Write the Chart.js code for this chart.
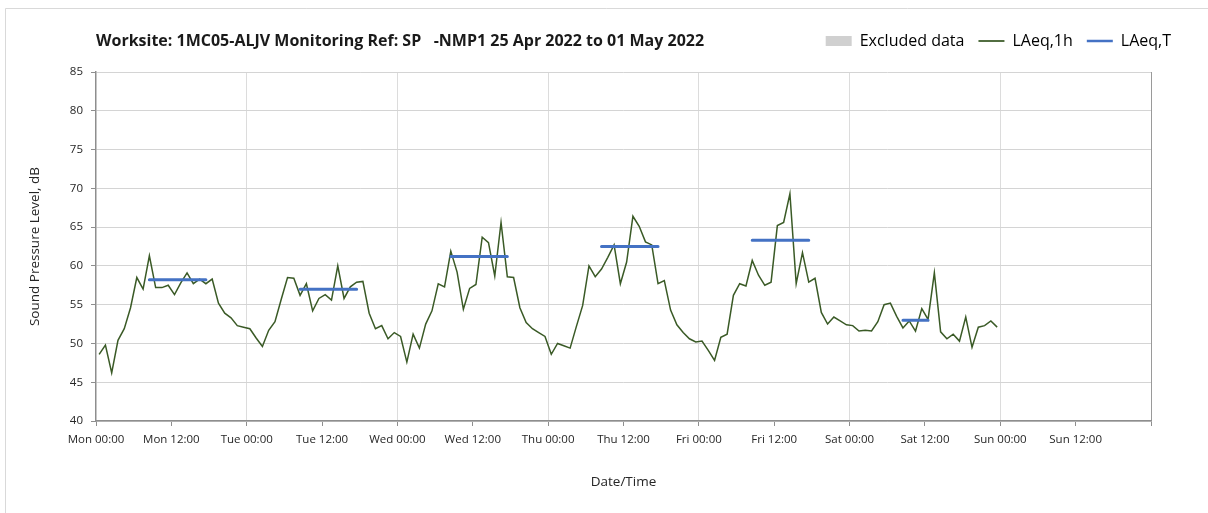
<!DOCTYPE html>
<html>
<head>
<meta charset="utf-8">
<script src="https://cdn.jsdelivr.net/npm/chart.js@4.4.1/dist/chart.umd.min.js"></script>
<style>
  html, body { margin: 0; padding: 0; background: #fff; }
</style>
</head>
<body>
<canvas id="noiseChart" width="1208" height="513"></canvas>
<script>
const dayNames = ["Mon", "Tue", "Wed", "Thu", "Fri", "Sat", "Sun"];

// hourly LAeq,1h, Mon 00:00 -> Sat 23:00 (plotted at the half hour)
const laeq1h = [
  48.6, 49.8, 46.2, 50.4, 51.9, 54.6, 58.5, 57.0, 61.3, 57.2, 57.2, 57.5,
  56.3, 57.8, 59.1, 57.7, 58.3, 57.7, 58.3, 55.2, 53.9, 53.3, 52.3, 52.1,
  51.9, 50.7, 49.6, 51.7, 52.8, 55.7, 58.5, 58.4, 56.2, 57.7, 54.2, 55.8,
  56.3, 55.6, 60.0, 55.8, 57.3, 57.9, 58.0, 53.9, 51.9, 52.3, 50.6, 51.4,
  50.9, 47.6, 51.2, 49.4, 52.5, 54.2, 57.7, 57.3, 61.9, 59.2, 54.4, 57.1,
  57.6, 63.7, 63.0, 58.7, 65.6, 58.6, 58.5, 54.6, 52.7, 51.9, 51.4, 50.9,
  48.6, 50.0, 49.7, 49.4, 52.2, 54.9, 60.0, 58.6, 59.6, 61.1, 62.7, 57.7,
  60.5, 66.4, 65.1, 63.1, 62.7, 57.7, 58.1, 54.3, 52.4, 51.4, 50.6, 50.2,
  50.3, 49.1, 47.8, 50.8, 51.2, 56.2, 57.7, 57.4, 60.7, 58.8, 57.5, 57.9,
  65.2, 65.6, 69.3, 57.7, 61.7, 57.9, 58.4, 54.0, 52.5, 53.4, 52.9, 52.4,
  52.3, 51.6, 51.7, 51.6, 52.8, 55.0, 55.2, 53.5, 52.0, 52.9, 51.6, 54.5,
  53.1, 59.1, 51.5, 50.6, 51.2, 50.3, 53.4, 49.5, 52.1, 52.3, 52.9, 52.1
];

// LAeq,T periods (hours from Mon 00:00)
const periodFrom = [8.5, 32.5, 56.5, 80.5, 104.5, 128.5];
const periodTo = [17.5, 41.5, 65.5, 89.5, 113.5, 132.5];
const laeqT = [58.2, 57.0, 61.2, 62.5, 63.3, 53.0];

const FONT = "'Open Sans', sans-serif";
const AXIS = "#8e8e8e";

const hourly = laeq1h.map((v, i) => ({ x: i + 0.5, y: v }));
const periods = [];
laeqT.forEach((v, i) => {
  periods.push({ x: periodFrom[i], y: v }, { x: periodTo[i], y: v }, { x: periodTo[i] + 0.5, y: null });
});

const legendLook = [
  { pointStyle: "rect", lineWidth: 0 },
  { pointStyle: "line", lineWidth: 1.75 },
  { pointStyle: "line", lineWidth: 2.5 }
];

const frame = {
  id: "frame",
  beforeDraw(chart) {
    const c = chart.ctx;
    c.save();
    c.fillStyle = "#fff";
    c.fillRect(0, 0, chart.width, chart.height);
    c.strokeStyle = "#d9d9d9";
    c.lineWidth = 1;
    c.beginPath();
    c.moveTo(5.5, chart.height);
    c.lineTo(5.5, 8.5);
    c.lineTo(chart.width, 8.5);
    c.stroke();
    c.restore();
  }
};

new Chart(document.getElementById("noiseChart"), {
  type: "line",
  data: {
    datasets: [
      { label: "Excluded data", data: [], backgroundColor: "#d0d0d0", borderColor: "#d0d0d0", order: 2 },
      {
        label: "LAeq,1h", data: hourly, borderColor: "#3a5a26", backgroundColor: "#3a5a26",
        borderWidth: 1.5, pointRadius: 0, tension: 0, order: 1
      },
      {
        label: "LAeq,T", data: periods, borderColor: "#4472C4", backgroundColor: "#4472C4",
        borderWidth: 3, pointRadius: 0, spanGaps: false, borderCapStyle: "round", order: 0
      }
    ]
  },
  options: {
    responsive: false,
    animation: false,
    layout: { padding: { top: 19, right: 23, bottom: 0, left: 0 } },
    scales: {
      x: {
        type: "linear",
        min: 0,
        max: 168,
        ticks: {
          stepSize: 12,
          autoSkip: false,
          maxRotation: 0,
          padding: 7,
          color: "#262626",
          font: { family: FONT, size: 11.5 },
          callback: (v) => v >= 168 ? "" : dayNames[Math.floor(v / 24)] + (v % 24 === 0 ? " 00:00" : " 12:00")
        },
        grid: {
          color: (ctx) => {
            if (!ctx.tick) return "transparent";
            const v = ctx.tick.value;
            if (v === 168) return "#9a9a9a";
            if (v > 0 && v % 24 === 0) return "#dcdcdc";
            return "transparent";
          },
          tickLength: 5,
          tickColor: AXIS
        },
        border: { color: AXIS, width: 1.5 },
        title: {
          display: true, text: "Date/Time", color: "#262626",
          font: { family: FONT, size: 13.5 }, padding: { top: 4, bottom: 23 }
        },
        afterFit: (s) => { s.height = 92; }
      },
      y: {
        min: 40,
        max: 85,
        ticks: { stepSize: 5, padding: 8, color: "#262626", font: { family: FONT, size: 11.5 } },
        grid: { color: "#d4d4d4", tickLength: 5, tickColor: AXIS },
        border: { color: AXIS, width: 1.5 },
        title: {
          display: true, text: "Sound Pressure Level, dB", color: "#262626",
          font: { family: FONT, size: 13.5 }, padding: { top: 27, bottom: 0 }
        },
        afterFit: (s) => { s.width = 96; }
      },
      yRight: {
        type: "linear",
        position: "right",
        grid: { display: false },
        ticks: { display: false },
        border: { display: false },
        afterFit: (s) => { s.width = 34; }
      }
    },
    plugins: {
      title: {
        display: true,
        text: "Worksite: 1MC05-ALJV Monitoring Ref: SP   -NMP1 25 Apr 2022 to 01 May 2022",
        align: "start",
        fullSize: false,
        weight: 500,
        color: "#1a1a1a",
        font: { family: FONT, size: 16, weight: "bold" },
        padding: { top: -27.6, bottom: 21.4 }
      },
      legend: {
        position: "top",
        align: "end",
        labels: {
          usePointStyle: true,
          pointStyleWidth: 26,
          boxHeight: 10,
          padding: 14,
          color: "#1a1a1a",
          font: { family: FONT, size: 16 },
          generateLabels: (chart) => chart.data.datasets.map((ds, i) => ({
            text: ds.label,
            fillStyle: ds.backgroundColor,
            strokeStyle: ds.borderColor,
            lineWidth: legendLook[i].lineWidth,
            pointStyle: legendLook[i].pointStyle,
            hidden: false,
            datasetIndex: i
          }))
        }
      },
      tooltip: { enabled: false }
    }
  },
  plugins: [frame]
});
</script>
</body>
</html>
